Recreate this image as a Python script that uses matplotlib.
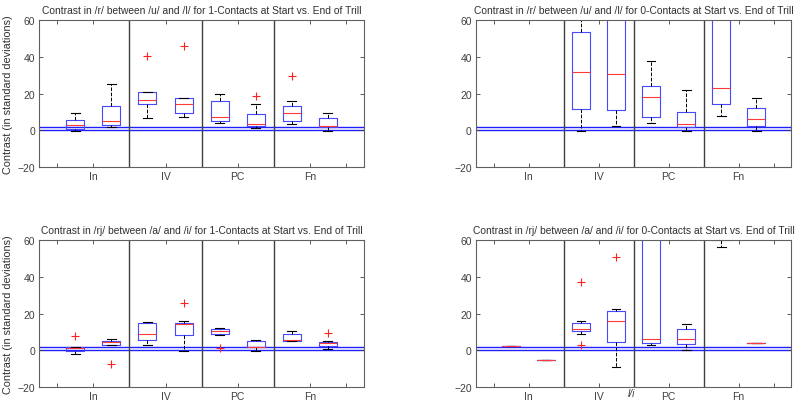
import numpy as np
import matplotlib
matplotlib.use("Agg")
import matplotlib.pyplot as plt

plt.rcParams["font.family"] = ["Liberation Sans", "DejaVu Sans"]

# group labels and box positions (start / end of trill for each group)
groups = ["In", "IV", "PC", "Fn"]
positions = [1, 2, 3, 4, 5, 6, 7, 8]

titles = [
    "Contrast in /r/ between /u/ and /l/ for 1-Contacts at Start vs. End of Trill",
    "Contrast in /r/ between /u/ and /l/ for 0-Contacts at Start vs. End of Trill",
    "Contrast in /rj/ between /a/ and /i/ for 1-Contacts at Start vs. End of Trill",
    "Contrast in /rj/ between /a/ and /i/ for 0-Contacts at Start vs. End of Trill",
]
ylabel = "Contrast (in standard deviations)"

# significance reference lines
ref_lines = [0, 1.96]

# top-left: /r/ 1-contacts
tl_lo = [-0.1, 1.7, 6.8, 7.2, 3.9, 1.4, 3.2, -0.1]
tl_q1 = [0.5, 3.0, 14.2, 9.7, 5.0, 2.1, 5.0, 1.7]
tl_med = [2.8, 5.0, 16.4, 14.2, 7.5, 3.5, 9.5, 2.1]
tl_q3 = [5.7, 13.3, 20.8, 17.7, 16.2, 9.0, 13.2, 6.6]
tl_hi = [9.3, 25.3, 21.0, 17.7, 19.7, 14.4, 16.2, 9.3]
tl_fliers = [[], [], [40.7], [45.8], [], [18.8], [29.8], []]

# top-right: /r/ 0-contacts (no data for In)
tr_lo = [np.nan, np.nan, -0.6, 2.6, 4.1, -0.5, 7.9, -0.3]
tr_q1 = [np.nan, np.nan, 11.5, 10.8, 7.3, 1.7, 14.2, 2.1]
tr_med = [np.nan, np.nan, 32.0, 30.7, 18.2, 3.2, 23.0, 6.1]
tr_q3 = [np.nan, np.nan, 53.4, 70.0, 24.0, 9.9, 65.0, 12.1]
tr_hi = [np.nan, np.nan, 75.0, 90.0, 37.5, 21.7, 95.0, 17.7]
tr_fliers = [[], [], [], [], [], [], [], []]

# bottom-left: /rj/ 1-contacts
bl_lo = [-2.1, 2.8, 3.0, -0.3, 8.3, -0.6, 5.0, 0.8]
bl_q1 = [-0.3, 2.8, 5.7, 8.3, 9.0, 1.7, 5.0, 2.4]
bl_med = [1.2, 4.6, 9.0, 14.4, 10.6, 1.9, 5.7, 4.1]
bl_q3 = [1.7, 5.0, 15.0, 14.8, 11.5, 5.3, 8.8, 4.8]
bl_hi = [1.7, 6.4, 15.7, 16.1, 12.4, 5.9, 10.6, 5.3]
bl_fliers = [[7.7], [-7.2], [], [25.7], [1.2], [], [], [9.5]]

# bottom-right: /rj/ 0-contacts
br_lo = [2.4, -5.2, 8.8, -8.8, 3.2, 0.4, 56.2, 3.9]
br_q1 = [2.4, -5.2, 10.4, 4.4, 3.9, 3.4, 60.0, 3.9]
br_med = [2.4, -5.2, 11.5, 15.9, 6.3, 6.3, 75.0, 3.9]
br_q3 = [2.4, -5.2, 15.0, 21.5, 90.0, 11.9, 90.0, 3.9]
br_hi = [2.4, -5.2, 15.9, 22.8, 110.0, 14.6, 100.0, 3.9]
br_fliers = [[], [], [37.4, 3.2], [50.9], [], [], [], []]

panels = [
    (tl_lo, tl_q1, tl_med, tl_q3, tl_hi, tl_fliers),
    (tr_lo, tr_q1, tr_med, tr_q3, tr_hi, tr_fliers),
    (bl_lo, bl_q1, bl_med, bl_q3, bl_hi, bl_fliers),
    (br_lo, br_q1, br_med, br_q3, br_hi, br_fliers),
]

# axes rectangles [left, bottom, width, height] in figure fraction
rects = [
    [0.049, 0.586, 0.406, 0.362],
    [0.595, 0.586, 0.394, 0.362],
    [0.049, 0.044, 0.406, 0.362],
    [0.595, 0.044, 0.394, 0.362],
]

gray = "#404040"
fig = plt.figure(figsize=(8, 4.06), dpi=100)

for i, (rect, data) in enumerate(zip(rects, panels)):
    ax = fig.add_axes(rect)
    lo, q1, med, q3, hi, fl = data
    stats, pos = [], []
    for p, a, b, c, d, e, f in zip(positions, lo, q1, med, q3, hi, fl):
        if np.isnan(c):
            continue
        stats.append(dict(whislo=a, q1=b, med=c, q3=d, whishi=e, fliers=f))
        pos.append(p)
    ax.bxp(stats, positions=pos, widths=0.5, capwidths=0.25,
           boxprops=dict(color="#4848ff", linewidth=0.8),
           medianprops=dict(color="#ff3838", linewidth=0.8),
           whiskerprops=dict(color="black", linestyle="--", linewidth=0.7),
           capprops=dict(color="black", linewidth=0.8),
           flierprops=dict(marker="+", markeredgecolor="#ff2020",
                           markersize=6, markeredgewidth=0.8, linestyle="none"))

    for y in ref_lines:
        ax.axhline(y, color="#2020ff", linewidth=1.0, zorder=1)
    for x in [2.5, 4.5, 6.5]:
        ax.axvline(x, color="#404040", linewidth=1.0)

    ax.set_xlim(0, 9)
    ax.set_ylim(-20, 60)
    ax.set_yticks([-20, 0, 20, 40, 60])
    ax.set_xticks(np.arange(0.5, 9, 1))
    ax.set_xticklabels(["", groups[0], "", groups[1], "", groups[2], "", groups[3], ""])
    ax.tick_params(direction="in", length=3, top=True, right=True,
                   labelsize=7.5, colors=gray, pad=3, width=0.6)
    for s in ax.spines.values():
        s.set_color("#606060")
        s.set_linewidth(0.8)
    ax.set_title(titles[i], fontsize=7.4, color="#303030", pad=5)
    if i % 2 == 0:
        ax.set_ylabel(ylabel, fontsize=7.8, color="#303030", labelpad=3)
    if i == 3:
        ax.text(4.45, -20.6, "l/i", fontsize=7.5, color=gray, style="italic",
                ha="center", va="top", clip_on=False)

fig.savefig("out.png", dpi=100)
